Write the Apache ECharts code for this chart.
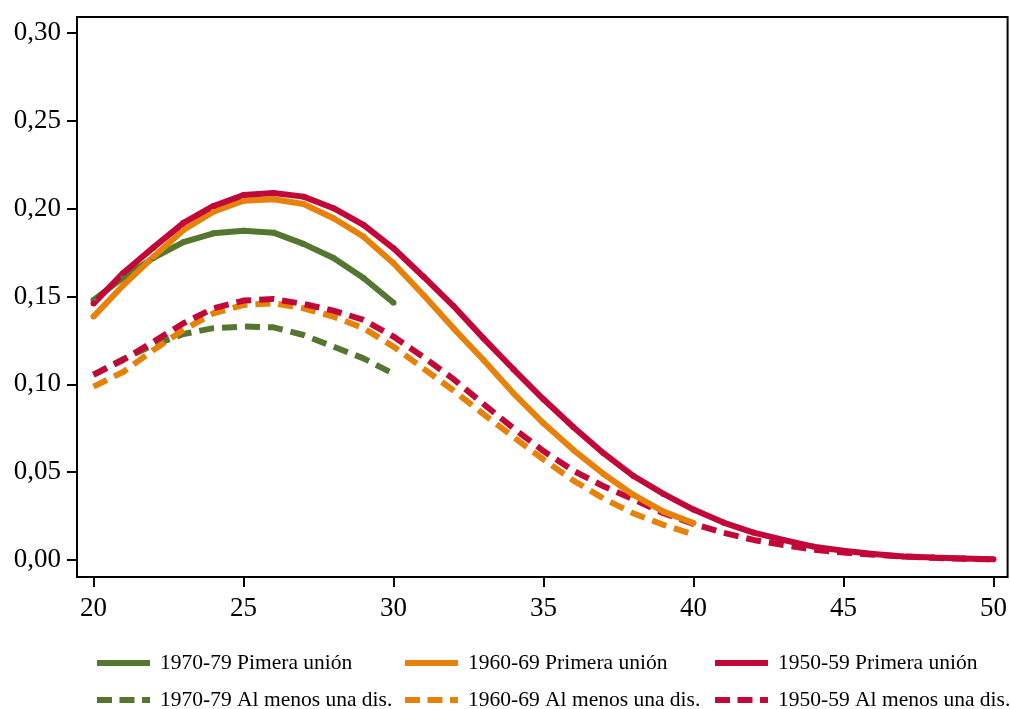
<!DOCTYPE html>
<html><head><meta charset="utf-8">
<script src="https://cdn.jsdelivr.net/npm/echarts@6/dist/echarts.min.js"></script>
<style>html,body{margin:0;padding:0;background:#fff}#c{width:1010px;height:709px}</style>
</head><body><div id="c"></div>
<script>
const xTicks = [20, 25, 30, 35, 40, 45, 50];
const yTicks = [0, 0.05, 0.10, 0.15, 0.20, 0.25, 0.30];

const ages70 = [20,21,22,23,24,25,26,27,28,29,30];
const ages60 = [20,21,22,23,24,25,26,27,28,29,30,31,32,33,34,35,36,37,38,39,40];
const ages50 = [20,21,22,23,24,25,26,27,28,29,30,31,32,33,34,35,36,37,38,39,40,41,42,43,44,45,46,47,48,49,50];

const names = ['1970-79 Pimera unión','1960-69 Primera unión','1950-59 Primera unión',
               '1970-79 Al menos una dis.','1960-69 Al menos una dis.','1950-59 Al menos una dis.'];

const first70 = [0.148,0.161,0.172,0.181,0.186,0.1875,0.1864,0.180,0.172,0.1606,0.1465];
const first60 = [0.1386,0.1566,0.1727,0.1879,0.1983,0.2046,0.2054,0.2027,0.1946,0.1841,0.169,0.1509,0.1319,0.1139,0.0949,0.0778,0.0626,0.049,0.037,0.0275,0.021];
const first50 = [0.146,0.1636,0.178,0.192,0.2016,0.2078,0.209,0.2069,0.2003,0.1908,0.1775,0.1613,0.1446,0.1262,0.1086,0.0915,0.0756,0.0608,0.0478,0.0376,0.0287,0.0213,0.0156,0.0114,0.0076,0.0053,0.0034,0.002,0.0014,0.0009,0.0004];

const dis70 = [0.1055,0.1145,0.1224,0.1287,0.132,0.1329,0.1325,0.1281,0.1215,0.1148,0.106];
const dis60 = [0.0987,0.1072,0.1196,0.131,0.1405,0.1452,0.1462,0.1433,0.1386,0.132,0.1215,0.109,0.0965,0.083,0.070,0.0572,0.0452,0.035,0.0265,0.020,0.0145];
const dis50 = [0.1054,0.114,0.1243,0.1348,0.1433,0.1477,0.1486,0.1458,0.142,0.1367,0.1272,0.1155,0.103,0.0888,0.075,0.062,0.0508,0.042,0.0345,0.0266,0.0205,0.0155,0.0114,0.0085,0.0058,0.0042,0.003,0.002,0.0012,0.0007,0.0004];

const GREEN = '#557630', ORANGE = '#e6820a', RED = '#c20838';
const FONT = '"Liberation Serif","DejaVu Serif",serif';
const DASH_ICON = 'path://M0,0h15v6h-15z M22.5,0h15v6h-15z M45,0h8v6h-8z';

const pairs = (xs, ys) => xs.map((x, i) => [x, ys[i]]);

function solid(name, xs, ys, color) {
  return { name, type: 'line', data: pairs(xs, ys), symbol: 'circle', symbolSize: 6,
    itemStyle: { color }, lineStyle: { color, width: 6 }, animation: false, z: 2 };
}
function dashed(name, xs, ys, color) {
  return { name, type: 'line', data: pairs(xs, ys), symbol: 'none',
    itemStyle: { color }, lineStyle: { color, width: 6, type: [15, 8], cap: 'butt' }, animation: false, z: 2 };
}

const legendPos = [
  { left: 97, top: 652 }, { left: 405, top: 652 }, { left: 715, top: 652 },
  { left: 97, top: 689 }, { left: 405, top: 689 }, { left: 715, top: 689 }
];
const legends = names.map((n, i) => ({
  data: [{ name: n, icon: i < 3 ? 'rect' : DASH_ICON }],
  left: legendPos[i].left, top: legendPos[i].top, padding: 0,
  itemWidth: 53, itemHeight: 6,
  textStyle: { fontFamily: FONT, fontSize: 21.5, color: '#000', padding: [0, 0, 0, 5] },
  selectedMode: false
}));

const chart = echarts.init(document.getElementById('c'), null, { renderer: 'canvas' });
chart.setOption({
  backgroundColor: '#fff',
  animation: false,
  legend: legends,
  grid: { left: 77, right: 2, top: 17, bottom: 132, show: true, borderColor: '#000', borderWidth: 2, containLabel: false },
  xAxis: {
    type: 'value', min: 19.45, max: 50.47,
    axisLine: { show: false, onZero: false },
    axisTick: { show: true, inside: false, customValues: xTicks, length: 10, lineStyle: { color: '#000', width: 2 } },
    axisLabel: { customValues: xTicks, margin: 18, fontFamily: FONT, fontSize: 27, color: '#000' },
    splitLine: { show: false }
  },
  yAxis: {
    type: 'value', min: -0.0097, max: 0.3092,
    axisLine: { show: false, onZero: false },
    axisTick: { show: true, inside: false, customValues: yTicks, length: 10, lineStyle: { color: '#000', width: 2 } },
    axisLabel: { customValues: yTicks, margin: 16, fontFamily: FONT, fontSize: 27, color: '#000',
      formatter: v => v.toFixed(2).replace('.', ',') },
    splitLine: { show: false }
  },
  series: [
    dashed(names[3], ages70, dis70, GREEN),
    dashed(names[4], ages60, dis60, ORANGE),
    dashed(names[5], ages50, dis50, RED),
    solid(names[0], ages70, first70, GREEN),
    solid(names[1], ages60, first60, ORANGE),
    solid(names[2], ages50, first50, RED)
  ]
});
</script>
</body></html>
